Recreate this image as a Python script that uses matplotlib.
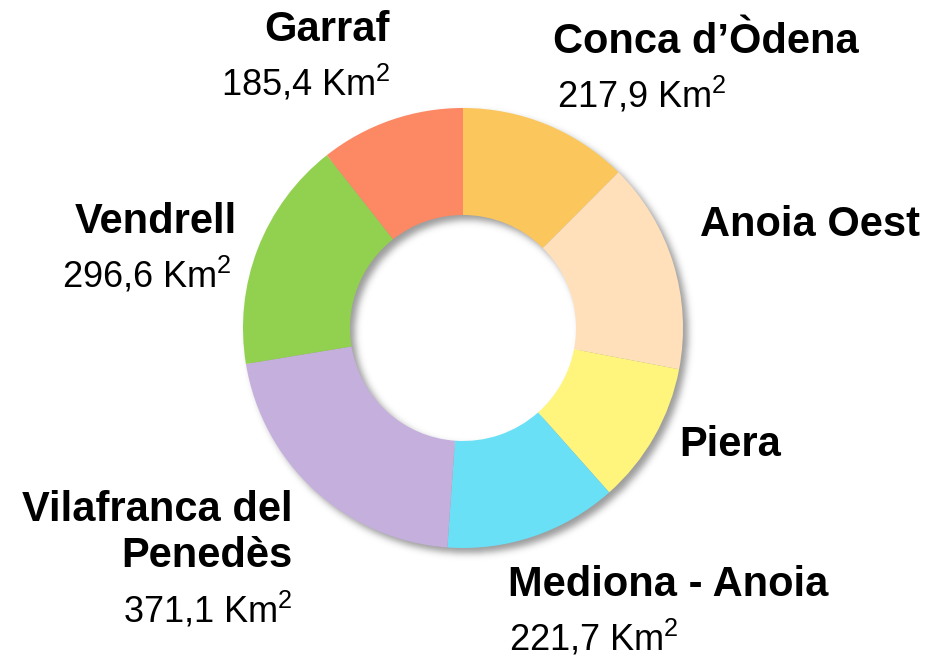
import numpy as np
import matplotlib.pyplot as plt

plt.rcParams['font.family'] = ['Liberation Sans', 'DejaVu Sans']
plt.rcParams['mathtext.fontset'] = 'custom'
plt.rcParams['mathtext.rm'] = 'Liberation Sans'

# superfície per comarca (Km2), sentit horari des de dalt
comarques = ['Conca d\u2019Òdena', 'Anoia Oest', 'Piera', 'Mediona - Anoia',
             'Vilafranca del\nPenedès', 'Vendrell', 'Garraf']
superficie = [217.9, 271.0, 182.0, 221.7, 371.1, 296.6, 185.4]
mostrar_valor = [True, False, False, True, True, True, True]
colors = ['#FBC65B', '#FFE0BB', '#FFF57D', '#6AE0F7', '#C4AFDD', '#92D050', '#FC8864']

W, H = 933, 666
cx, cy, r_out, r_in = 463, 328, 220, 113

fig = plt.figure(figsize=(W / 100, H / 100), dpi=100)
ax = fig.add_axes([0, 0, 1, 1])

# ombra difuminada sota l'anell
yy, xx = np.mgrid[0:H, 0:W] + 0.5
dist = np.hypot(xx - (cx + 5), yy - (cy + 5))
mask = ((dist <= r_out) & (dist >= r_in)).astype(float)
k = np.exp(-0.5 * (np.arange(-10, 11) / 3.5) ** 2)
k /= k.sum()
mask = np.apply_along_axis(lambda v: np.convolve(v, k, mode='same'), 0, mask)
mask = np.apply_along_axis(lambda v: np.convolve(v, k, mode='same'), 1, mask)
shadow = np.zeros((H, W, 4))
shadow[..., :3] = 0.35
shadow[..., 3] = mask * 0.6
ax.imshow(shadow, extent=(0, W, H, 0), zorder=0, interpolation='bilinear')

# l'eix y va invertit, per això el sentit antihorari en dades surt horari a la imatge
ax.pie(superficie, colors=colors, startangle=-90, counterclock=True,
       center=(cx, cy), radius=r_out, frame=True,
       wedgeprops=dict(width=r_out - r_in, linewidth=0, zorder=2))
ax.set_xlim(0, W)
ax.set_ylim(H, 0)
ax.axis('off')

# posicions de les etiquetes (px)
etiq_pos = [(706, 42, 'center'), (810, 225, 'center'), (730, 445, 'center'),
            (668, 585, 'center'), (293, 533, 'right'), (237, 222, 'right'),
            (327, 30, 'center')]
valor_pos = [(642, 95, 'center'), None, None, (594, 638, 'center'),
             (293, 610, 'right'), (232, 275, 'right'), (306, 83, 'center')]

for nom, val, mv, ep, vp in zip(comarques, superficie, mostrar_valor, etiq_pos, valor_pos):
    ax.text(ep[0], ep[1], nom, ha=ep[2], va='center', fontsize=30,
            fontweight='bold', linespacing=1.2, multialignment='right')
    if mv:
        txt = f'{val:.1f}'.replace('.', ',') + ' Km$^2$'
        ax.text(vp[0], vp[1], txt, ha=vp[2], va='center', fontsize=26)

fig.savefig('out.png', dpi=100)
